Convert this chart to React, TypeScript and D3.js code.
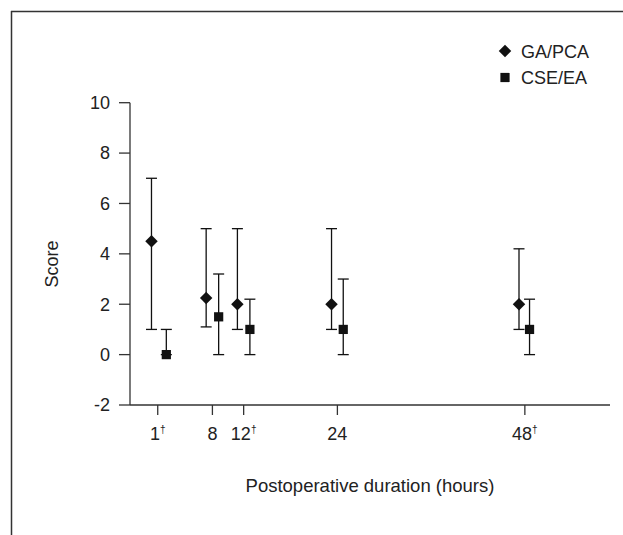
import React from "react";
import * as d3 from "d3";

// hours at which scores were taken
const hours = [1, 8, 12, 24, 48];
const tickLabels = ["1", "8", "12", "24", "48"];
const daggers = [true, false, true, false, true];

// plotted x positions (hours), slightly offset per group
const gaX = [0.2, 7.2, 11.2, 23.25, 47.25];
const cseX = [2.1, 8.8, 12.8, 24.75, 48.6];

// GA/PCA: median and range
const gaMid = [4.5, 2.25, 2, 2, 2];
const gaLow = [1, 1.1, 1, 1, 1];
const gaHigh = [7, 5, 5, 5, 4.2];

// CSE/EA: median and range
const cseMid = [0, 1.5, 1, 1, 1];
const cseLow = [0, 0, 0, 0, 0];
const cseHigh = [1, 3.2, 2.2, 3, 2.2];

const yTicks = [-2, 0, 2, 4, 6, 8, 10];

const W = 623;
const H = 535;
const font = "Arial, 'Liberation Sans', Helvetica, sans-serif";
const axisColor = "#333";
const ink = "#111";
const fs = 18;

export default function App() {
  const x = d3.scaleLinear().domain([-2.55, 58.9]).range([130, 610]);
  const y = d3.scaleLinear().domain([-2, 10]).range([405, 102.7]);

  // diamond = square turned 45 degrees
  const diamond = d3.symbol().type(d3.symbolSquare).size(78)();
  const square = d3.symbol().type(d3.symbolSquare).size(85)();

  const errBar = (xv: number, lo: number, hi: number, key: string) => {
    const cx = x(xv);
    return (
      <g key={key} stroke={ink} strokeWidth={1.3}>
        <line x1={cx} x2={cx} y1={y(lo)} y2={y(hi)} />
        <line x1={cx - 5.5} x2={cx + 5.5} y1={y(hi)} y2={y(hi)} />
        <line x1={cx - 5.5} x2={cx + 5.5} y1={y(lo)} y2={y(lo)} />
      </g>
    );
  };

  return (
    <svg
      width={W}
      height={H}
      style={{ position: "absolute", left: 0, top: 0, background: "#fff" }}
      fontFamily={font}
    >
      {/* frame */}
      <line x1={11} x2={W} y1={11.5} y2={11.5} stroke={axisColor} strokeWidth={1.5} />
      <line x1={11.5} x2={11.5} y1={11} y2={H} stroke={axisColor} strokeWidth={1.5} />

      {/* y axis */}
      <line x1={130} x2={130} y1={y(10)} y2={y(-2)} stroke={axisColor} strokeWidth={1.3} />
      {yTicks.map((t) => (
        <g key={t}>
          <line x1={119} x2={130} y1={y(t)} y2={y(t)} stroke={axisColor} strokeWidth={1.3} />
          <text x={110} y={y(t)} dy="0.35em" textAnchor="end" fontSize={fs} fill="#222">
            {t}
          </text>
        </g>
      ))}

      {/* x axis */}
      <line x1={130} x2={610} y1={y(-2)} y2={y(-2)} stroke={axisColor} strokeWidth={1.3} />
      {hours.map((h, i) => (
        <g key={h}>
          <line x1={x(h)} x2={x(h)} y1={y(-2)} y2={y(-2) + 10} stroke={axisColor} strokeWidth={1.3} />
          <text x={x(h)} y={440} textAnchor="middle" fontSize={fs} fill="#222">
            {tickLabels[i]}
            {daggers[i] && (
              <tspan fontSize={10} dy={-7}>
                †
              </tspan>
            )}
          </text>
        </g>
      ))}

      {/* error bars */}
      {gaX.map((xv, i) => errBar(xv, gaLow[i], gaHigh[i], "ga" + i))}
      {cseX.map((xv, i) => errBar(xv, cseLow[i], cseHigh[i], "cse" + i))}

      {/* markers */}
      {gaX.map((xv, i) => (
        <path
          key={"gm" + i}
          d={diamond}
          transform={`translate(${x(xv)},${y(gaMid[i])}) rotate(45)`}
          fill={ink}
        />
      ))}
      {cseX.map((xv, i) => (
        <path key={"cm" + i} d={square} transform={`translate(${x(xv)},${y(cseMid[i])})`} fill={ink} />
      ))}

      {/* axis titles */}
      <text transform="translate(58,264) rotate(-90)" textAnchor="middle" fontSize={fs} fill="#222">
        Score
      </text>
      <text x={370} y={492} textAnchor="middle" fontSize={18.5} fill="#222">
        Postoperative duration (hours)
      </text>

      {/* legend */}
      <path d={diamond} transform="translate(505,51) rotate(45)" fill={ink} />
      <text x={521} y={57.5} fontSize={fs} fill="#222">
        GA/PCA
      </text>
      <path d={square} transform="translate(505,77.5)" fill={ink} />
      <text x={521} y={84} fontSize={fs} fill="#222">
        CSE/EA
      </text>
    </svg>
  );
}
